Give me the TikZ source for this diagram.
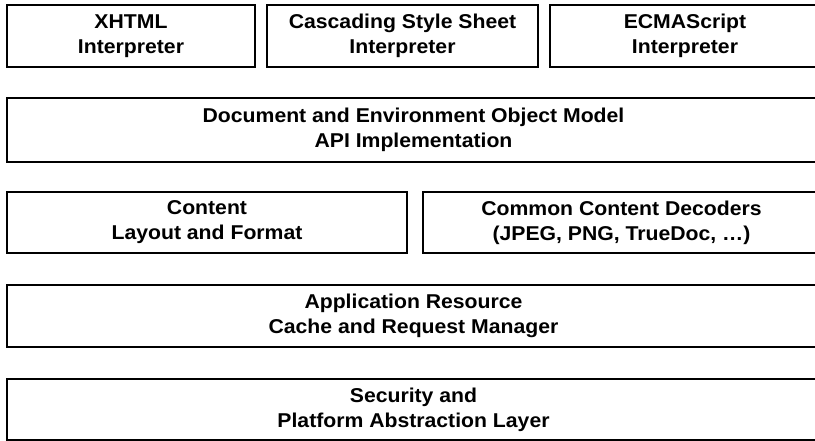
\documentclass[tikz,border=0pt]{standalone}
\usepackage{fontspec}
\setmainfont{Liberation Sans}[FakeStretch=1.06]
\usepackage{tikz}

\tikzset{
  layer/.style={draw, line width=1.5pt, inner sep=0pt, align=center,
    font=\bfseries\fontsize{20}{25}\selectfont},
}

\begin{document}
\begin{tikzpicture}[x=1pt, y=-1pt]
      \useasboundingbox (0, 0) rectangle (815, 441);

      \node [layer, minimum width=248pt, minimum height=62pt] (xhtml) at (131, 36) {XHTML\\Interpreter};
      \node [layer, minimum width=271pt, minimum height=62pt] (css) at (402.5, 36) {Cascading Style Sheet\\Interpreter};
      \node [layer, minimum width=270pt, minimum height=62pt] (ecma) at (685, 36) {ECMAScript\\Interpreter};

      \node [layer, minimum width=813pt, minimum height=64pt] (dom) at (413.5, 130) {Document and Environment Object Model\\API Implementation};

      \node [layer, minimum width=400pt, minimum height=61pt] (layout) at (207, 222.5) {Content\\Layout and Format};
      \node [layer, minimum width=397pt, minimum height=61pt] (decoders) at (621.5, 222.5) {Common Content Decoders\\(JPEG, PNG, TrueDoc, \dots)};

      \node [layer, minimum width=813pt, minimum height=62pt] (cache) at (413.5, 316) {Application Resource\\Cache and Request Manager};

      \node [layer, minimum width=813pt, minimum height=61pt] (security) at (413.5, 409.5) {Security and\\Platform Abstraction Layer};
    \end{tikzpicture}
\end{document}
